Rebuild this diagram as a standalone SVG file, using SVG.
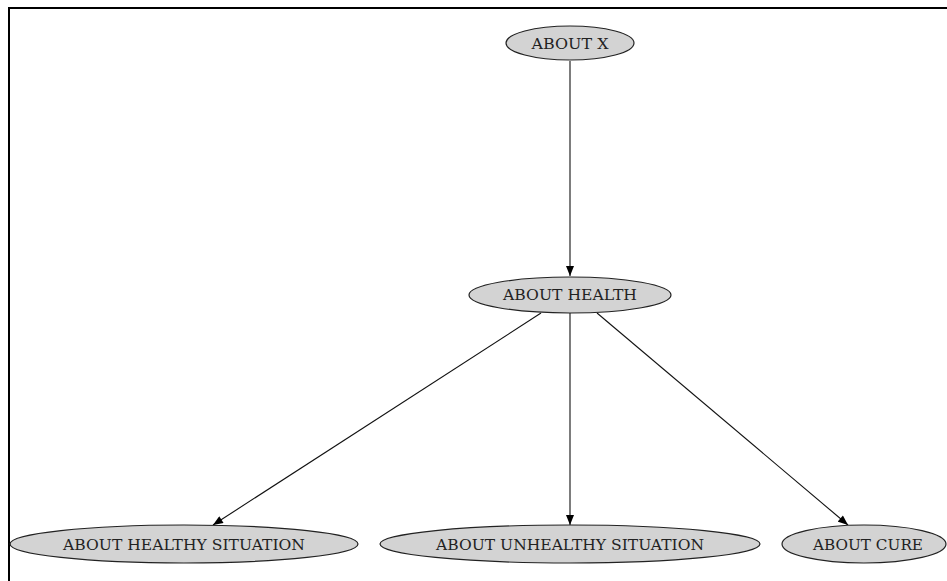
<svg xmlns="http://www.w3.org/2000/svg" width="947" height="581" viewBox="0 0 947 581">
<style>
.node ellipse{fill:#d3d3d3;stroke:#222;stroke-width:1.2}
.node text{font-family:"DejaVu Serif","Liberation Serif",serif;font-size:14.5px;fill:#222;text-anchor:middle;dominant-baseline:central}
.edge{stroke:#111;stroke-width:1.1;fill:none;marker-end:url(#arr)}
</style>
<defs>
<marker id="arr" viewBox="0 0 10 8" refX="10" refY="4" markerWidth="11" markerHeight="8" markerUnits="userSpaceOnUse" orient="auto">
<path d="M0,0 L10,4 L0,8 Z" fill="#000"/>
</marker>
</defs>
<rect width="947" height="581" fill="#fff"/>
<path d="M9,581 V8 H947" stroke="#000" stroke-width="2" fill="none"/>
<g id="connectors">
<line class="edge" x1="570" y1="61" x2="570" y2="276"/>
<line class="edge" x1="541" y1="313" x2="213" y2="525"/>
<line class="edge" x1="570" y1="313" x2="570" y2="525"/>
<line class="edge" x1="597" y1="313" x2="848" y2="525"/>
</g>
<g id="about_x" class="node"><ellipse cx="570" cy="43" rx="64" ry="17"/><text x="570" y="44" textLength="77" lengthAdjust="spacingAndGlyphs">ABOUT X</text></g>
<g id="about_health" class="node"><ellipse cx="570" cy="295" rx="101" ry="18"/><text x="570" y="295" textLength="134" lengthAdjust="spacingAndGlyphs">ABOUT HEALTH</text></g>
<g id="about_healthy" class="node"><ellipse cx="184" cy="544" rx="174" ry="19"/><text x="184" y="545" textLength="242" lengthAdjust="spacingAndGlyphs">ABOUT HEALTHY SITUATION</text></g>
<g id="about_unhealthy" class="node"><ellipse cx="570" cy="544" rx="190" ry="19"/><text x="570" y="545" textLength="268" lengthAdjust="spacingAndGlyphs">ABOUT UNHEALTHY SITUATION</text></g>
<g id="about_cure" class="node"><ellipse cx="864" cy="544" rx="82" ry="19"/><text x="868" y="545" textLength="110" lengthAdjust="spacingAndGlyphs">ABOUT CURE</text></g>
</svg>
